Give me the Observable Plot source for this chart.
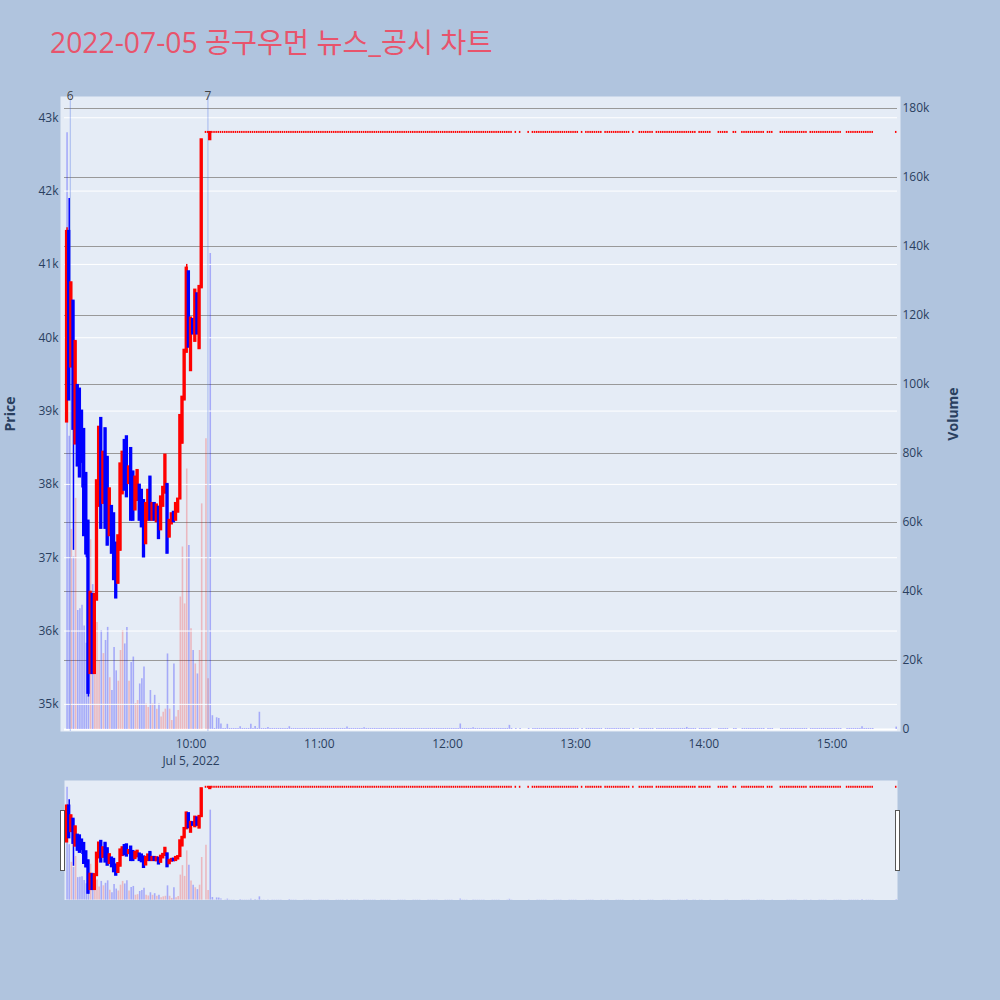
<!DOCTYPE html>
<html><head><meta charset="utf-8">
<script src="https://cdn.jsdelivr.net/npm/d3@7"></script>
<script src="https://cdn.jsdelivr.net/npm/@observablehq/plot@0.6"></script>
<style>
body{margin:0;background:#b0c4de;}
#wrap{position:relative;width:1000px;height:1000px;background:#b0c4de;font-family:"Open Sans",sans-serif;overflow:hidden;}
.layer{position:absolute;left:0;}
#title{position:absolute;left:50px;top:20px;font-size:28.3px;color:#e8546c;font-family:"Open Sans","Noto Sans CJK KR",sans-serif;white-space:nowrap;}
.handle{position:absolute;width:3px;height:59px;background:#fff;border:1px solid #555;}
</style></head><body>
<div id="wrap"><div id="title">2022-07-05 공구우먼 뉴스_공시 차트</div></div>
<script>
// ---------- data ----------
const candleTimes = ["09:02","09:03","09:04","09:05","09:06","09:07","09:08","09:09","09:10","09:11","09:12","09:13","09:14","09:15","09:16","09:17","09:18","09:19","09:20","09:21","09:22","09:23","09:24","09:25","09:26","09:27","09:28","09:29","09:30","09:31","09:32","09:33","09:34","09:35","09:36","09:37","09:38","09:39","09:40","09:41","09:42","09:43","09:44","09:45","09:46","09:47","09:48","09:49","09:50","09:51","09:52","09:53","09:54","09:55","09:56","09:57","09:58","09:59","10:00","10:01","10:02","10:03","10:04","10:05","10:07","10:08","10:09"];
const openP  = [38850,41450,39600,40500,38550,39350,39300,39000,38750,38150,37500,35420,36500,35420,36420,37700,38900,37740,38760,38370,37300,37700,37600,37200,36650,37100,37870,38600,38650,38010,38490,38170,37650,37780,37990,37920,37780,37190,37510,38100,37510,37740,37490,37690,37380,37700,37880,38000,37280,37460,37620,37510,37620,37800,38560,39150,39800,40900,39550,40250,39950,40600,39850,40680,42800,42800,42700];
const highP  = [41500,41900,40750,40500,39950,39350,39300,39000,38750,38150,37500,36530,36500,36500,38050,38780,38900,38440,38760,38370,37940,37700,37600,37200,37300,38280,38440,38600,38650,38240,38490,38170,38100,38190,37990,37920,37780,37740,37920,38100,37740,37740,37720,37690,37830,37960,38400,38000,37510,37600,37620,37740,37800,38940,39190,39830,41000,40900,40270,40250,40650,40600,40700,42700,42800,42800,42800];
const lowP   = [38850,39150,39600,37100,38550,38250,38100,37950,37300,37000,35100,35420,35420,35420,36420,37700,37400,37740,37400,37170,37300,37060,36700,36450,36650,37100,37870,37920,37830,38010,37510,37510,37650,37780,37510,37420,37010,37190,37510,37510,37510,37510,37490,37260,37380,37700,37880,37060,37280,37460,37490,37510,37620,37800,38560,39150,39800,39870,39550,40050,39950,40050,39850,40680,42800,42800,42700];
const closeP = [41450,39150,40750,38750,39950,38250,38100,38300,37300,37050,35150,36530,35420,36500,38050,38780,37400,38440,37400,37170,37940,37060,36700,36450,37300,38280,38440,37920,37830,38240,37510,37510,38100,38190,37510,37420,37010,37740,37920,37510,37740,37510,37720,37260,37830,37960,38400,37060,37510,37600,37490,37740,37800,38940,39190,39830,40950,39870,40270,40050,40650,40050,40700,42700,42800,42800,42800];
const volumes = [173000,85000,58000,50000,67000,34500,35000,36000,30000,25000,50000,55000,42000,24000,31000,20000,28700,22000,25800,29600,15000,11300,23800,17000,14000,22900,28700,24800,29600,14000,19400,21000,7500,8400,13200,14700,18100,7400,6400,11300,7400,9900,5900,7400,3600,5000,5900,21900,5900,2600,19000,3600,5500,38400,52900,36400,75500,53300,29200,22900,19000,16100,22900,65400,84300,14700,138000];
// volume bar direction where it differs from the candle's own direction
const volDirOverride = {"09:02":"down","10:07":"up","10:09":"down"};

// minutes traded at the upper limit (42,800) after 10:09, read as runs
const limitPrice = 42800;
const flatRuns = [["10:10","12:30"],["12:32","12:32"],["12:34","12:34"],["12:38","12:38"],["12:40","13:01"],["13:03","13:03"],["13:05","13:12"],["13:14","13:25"],["13:27","13:27"],["13:30","13:36"],["13:38","13:56"],["13:58","14:03"],["14:07","14:11"],["14:14","14:15"],["14:18","14:28"],["14:30","14:32"],["14:36","14:48"],["14:50","15:04"],["15:07","15:19"],["15:30","15:30"]];
const flatBaseVol = 300;
const flatVolSpikes = {"10:10":4000,"10:12":3400,"10:13":3200,"10:14":1600,"10:17":1500,"10:23":800,"10:28":1500,"10:30":900,"10:32":5000,"10:36":600,"10:46":800,"11:13":700,"11:21":500,"12:06":1600,"12:12":500,"12:29":1200,"13:52":600,"15:14":800,"15:30":700};

// news markers
const newsTimes = ["09:03:30","10:07:55"];
const newsCounts = ["6","7"];

const priceTicks = [35000,36000,37000,38000,39000,40000,41000,42000,43000];
const volTicks = [0,20000,40000,60000,80000,100000,120000,140000,160000,180000];
const hourTicks = ["10:00","11:00","12:00","13:00","14:00","15:00"];

// ---------- build tables ----------
const parse = s => new Date(`2022-07-05T${s.length === 5 ? s + ":00" : s}Z`);
const candles = candleTimes.map((t, i) => {
  const up = closeP[i] >= openP[i];
  const vd = volDirOverride[t];
  return {date: parse(t), open: openP[i], high: highP[i], low: lowP[i], close: closeP[i],
          vol: volumes[i], up, volUp: vd ? vd === "up" : up};
});
for (const [a, b] of flatRuns) {
  for (let d = +parse(a); d <= +parse(b); d += 60000) {
    const key = d3.utcFormat("%H:%M")(new Date(d));
    candles.push({date: new Date(d), open: limitPrice, high: limitPrice, low: limitPrice, close: limitPrice,
                  vol: flatVolSpikes[key] ?? flatBaseVol, up: true, volUp: false});
  }
}
const moving = candles.filter(d => d.open !== d.close);
const flat = candles.filter(d => d.open === d.close);
const news = newsTimes.map((t, i) => ({date: parse(t), label: newsCounts[i]}));

const xDomain = [new Date("2022-07-05T09:00:48Z"), new Date("2022-07-05T15:30:36Z")];
const priceDomain = [34630, 43290];
const volDomain = [-580, 183480];

const UP = "#ff0000", DOWN = "#0000ff";
const VUP = "rgba(255,0,0,0.22)", VDOWN = "rgba(0,0,255,0.28)";
const TXT = "#2a3f5f";
const half = 21000;
const bx1 = d => new Date(+d.date - half), bx2 = d => new Date(+d.date + half);
const col = d => d.up ? UP : DOWN;

function candleMarks(wick) {
  return [
    Plot.ruleX(moving, {x: "date", y1: "low", y2: "high", stroke: col, strokeWidth: wick}),
    Plot.rect(moving, {x1: bx1, x2: bx2,
      y1: d => Math.min(d.open, d.close), y2: d => Math.max(d.open, d.close),
      fill: col, insetLeft: -0.9, insetRight: -0.9, insetTop: -1, insetBottom: -1}),
    Plot.rect(flat, {x1: bx1, x2: bx2, y1: "open", y2: "close",
      fill: col, insetTop: -1, insetBottom: -1})
  ];
}
const volMark = w => Plot.ruleX(candles, {x: "date", y1: 0, y2: "vol", stroke: d => d.volUp ? VUP : VDOWN, strokeWidth: w});

const wrap = document.getElementById("wrap");
function add(svg, top) {
  svg.classList.add("layer");
  svg.style.top = top + "px";
  wrap.appendChild(svg);
  return svg;
}
const common = {width: 1000, marginLeft: 64, marginRight: 103,
  style: {background: "transparent", fontFamily: "'Open Sans', sans-serif", fontSize: "12px", color: TXT}};

// main: volume layer (back)
const volLayer = Plot.plot({...common, height: 775, marginTop: 96, marginBottom: 44,
  x: {type: "utc", domain: xDomain, axis: null},
  y: {domain: volDomain, axis: null},
  marks: [
    Plot.frame({fill: "#e5ecf6", stroke: null, insetLeft: -4, insetRight: -3}),
    Plot.ruleY(volTicks.slice(1), {stroke: "#999999", strokeWidth: 1}),
    Plot.ruleY([0], {stroke: "#ffffff", strokeWidth: 2}),
    volMark(1.6),
    Plot.axisY(volTicks, {anchor: "right", tickSize: 0, tickPadding: 5,
      tickFormat: d => d === 0 ? "0" : d / 1000 + "k",
      label: "Volume", labelAnchor: "center", labelOffset: 60})
  ]});
add(volLayer, 0);

// main: price layer (front)
const priceLayer = Plot.plot({...common, height: 775, marginTop: 96, marginBottom: 44,
  x: {type: "utc", domain: xDomain},
  y: {domain: priceDomain},
  marks: [
    Plot.ruleY(priceTicks, {stroke: "#ffffff", strokeWidth: 1}),
    Plot.ruleX(news, {x: "date", stroke: "rgba(65,105,225,0.4)", strokeWidth: 1}),
    ...candleMarks(1.5),
    Plot.text(news, {x: "date", y: () => priceDomain[1], text: "label", lineAnchor: "middle", fill: "#444", fontSize: 12}),
    Plot.axisY(priceTicks, {anchor: "left", tickSize: 0, tickPadding: 6,
      tickFormat: d => d / 1000 + "k", label: "Price", labelAnchor: "center", labelOffset: 59}),
    Plot.axisX(hourTicks.map(parse), {anchor: "bottom", tickSize: 0, tickPadding: 4, label: null, lineHeight: 1.45,
      tickFormat: (d, i) => d3.utcFormat("%H:%M")(d) + (i === 0 ? "\nJul 5, 2022" : "")})
  ]});
add(priceLayer, 0);

// range slider
const sl = {...common, height: 120, marginTop: 0, marginBottom: 0};
add(Plot.plot({...sl, x: {type: "utc", domain: xDomain, axis: null}, y: {domain: volDomain, axis: null},
  marks: [Plot.frame({fill: "#e5ecf6", stroke: null}), volMark(1.6)]}), 780);
add(Plot.plot({...sl, x: {type: "utc", domain: xDomain, axis: null}, y: {domain: priceDomain, axis: null},
  marks: candleMarks(1.5)}), 780);

for (const left of [60, 895]) {
  const h = document.createElement("div");
  h.className = "handle";
  h.style.left = left + "px";
  h.style.top = "810px";
  wrap.appendChild(h);
}

// axis titles: bold, without direction arrows
document.querySelectorAll('g[aria-label="y-axis label"] text').forEach(t => {
  t.textContent = t.textContent.replace(/[↑↓→←]/g, "").trim();
  t.setAttribute("font-weight", "bold");
  t.setAttribute("font-size", "14");
});
</script>
</body></html>
